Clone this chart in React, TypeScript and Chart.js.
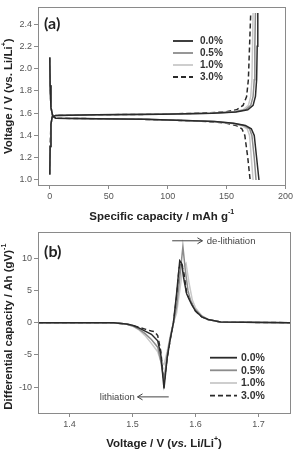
import React, { useEffect, useRef } from 'react';
import { Chart, registerables } from 'chart.js';

Chart.register(...registerables);

const FONT = '"Liberation Sans", Arial, sans-serif';
const LABEL_FONT = 'Lato, "Liberation Sans", sans-serif';
const FRAME = '#8a8a8a';
const TICK_TEXT = '#555555';
const TITLE_TEXT = '#222222';

const SERIES_LABELS = ['0.0%', '0.5%', '1.0%', '3.0%'];
const SERIES_COLORS = ['#2a2a2a', '#8c8c8c', '#c9c9c9', '#2a2a2a'];
const SERIES_DASH: number[][] = [[], [], [], [5, 3]];

// ---- (a) charge / discharge profiles ----
const dischargeVoltage = [2.1, 1.85, 1.65, 1.575, 1.555, 1.55, 1.545, 1.535, 1.525, 1.51, 1.49, 1.46, 1.4, 1.2, 1.0];
const dischargeCap00 = [0, 0.3, 1.0, 2.5, 5, 40, 80, 115, 140, 156, 166, 171, 173.5, 175.5, 177.5];
const dischargeCap05 = [0, 0.3, 1.0, 2.5, 5, 40, 80, 114, 139, 155, 164.5, 169.5, 171.5, 173.5, 175];
const dischargeCap10 = [0, 0.3, 1.0, 2.5, 5, 40, 80, 113, 138, 153, 162.5, 167.5, 169.5, 171, 172.5];
const dischargeCap30 = [0, 0.3, 1.0, 2.5, 5, 40, 78, 110, 134, 150, 158, 163, 165.5, 168, 170];

const chargeVoltage = [1.05, 1.3, 1.5, 1.565, 1.58, 1.585, 1.59, 1.6, 1.61, 1.63, 1.67, 1.75, 1.9, 2.2, 2.5];
const chargeCap00 = [0, 0.3, 1.0, 2.0, 5, 40, 95, 138, 158, 168, 172.5, 174.5, 175.5, 176, 176.5];
const chargeCap05 = [0, 0.3, 1.0, 2.0, 5, 40, 94, 136, 156, 166, 170.5, 172.5, 173.5, 174, 174.5];
const chargeCap10 = [0, 0.3, 1.0, 2.0, 5, 40, 93, 134, 154, 164, 168.5, 170.5, 171.5, 172, 172.5];
const chargeCap30 = [0, 0.3, 1.0, 2.0, 5, 38, 88, 128, 148, 158.5, 164, 167, 168.5, 169.5, 170.5];

const capacityTicks = [0, 50, 100, 150, 200];
const voltageTicks = [1.0, 1.2, 1.4, 1.6, 1.8, 2.0, 2.2, 2.4];

// ---- (b) differential capacity ----
const dqdvV00 = [1.35, 1.47, 1.49, 1.5, 1.51, 1.52, 1.53, 1.54, 1.545, 1.55, 1.555, 1.56, 1.565, 1.57, 1.575, 1.578, 1.582, 1.586, 1.59, 1.594, 1.6, 1.61, 1.62, 1.64, 1.75];
const dqdvY00 = [0, 0, -0.2, -0.4, -0.8, -1.3, -1.8, -2.8, -5.0, -10.2, -5.5, -2.5, 0, 4.5, 9.6, 9.2, 6.5, 4.5, 3.6, 2.8, 1.8, 0.9, 0.5, 0.1, 0];
const dqdvV05 = [1.35, 1.47, 1.49, 1.5, 1.51, 1.52, 1.53, 1.54, 1.545, 1.55, 1.555, 1.56, 1.565, 1.57, 1.575, 1.58, 1.584, 1.588, 1.592, 1.596, 1.6, 1.61, 1.62, 1.64, 1.75];
const dqdvY05 = [0, 0, -0.2, -0.5, -1.0, -1.7, -2.6, -3.8, -6.0, -9.0, -5.0, -2.3, 0, 2.5, 7.0, 11.8, 8.0, 5.0, 3.5, 2.6, 2.0, 1.0, 0.5, 0.1, 0];
const dqdvV10 = [1.35, 1.47, 1.49, 1.5, 1.51, 1.52, 1.53, 1.54, 1.545, 1.55, 1.555, 1.56, 1.565, 1.57, 1.575, 1.58, 1.585, 1.59, 1.595, 1.6, 1.61, 1.62, 1.64, 1.75];
const dqdvY10 = [0, 0, -0.2, -0.5, -1.1, -2.0, -3.2, -4.5, -6.0, -6.5, -4.5, -2.0, 0, 1.5, 5.0, 8.5, 9.2, 6.0, 3.5, 2.3, 1.1, 0.5, 0.1, 0];
const dqdvV30 = [1.35, 1.47, 1.49, 1.5, 1.51, 1.52, 1.53, 1.535, 1.54, 1.545, 1.55, 1.555, 1.56, 1.565, 1.57, 1.574, 1.578, 1.582, 1.586, 1.59, 1.594, 1.6, 1.61, 1.62, 1.64, 1.75];
const dqdvY30 = [0, 0, -0.2, -0.4, -0.7, -1.0, -1.3, -1.4, -2.0, -4.5, -9.5, -5.5, -2.5, 0, 4.0, 8.5, 9.3, 7.5, 4.5, 3.8, 3.0, 1.8, 0.9, 0.5, 0.1, 0];

const dqdvVoltageTicks = [1.4, 1.5, 1.6, 1.7];
const dqdvTicks = [-10, -5, 0, 5, 10];

type Seg = { t: string; it?: boolean; sup?: boolean };

function drawRich(ctx: CanvasRenderingContext2D, segs: Seg[], x: number, y: number, size: number, rotate: boolean) {
  ctx.save();
  ctx.translate(x, y);
  if (rotate) ctx.rotate(-Math.PI / 2);
  const fontOf = (s: Seg) => `${s.it ? 'italic ' : ''}bold ${s.sup ? Math.round(size * 0.65) : size}px ${FONT}`;
  let total = 0;
  const widths = segs.map((s) => {
    ctx.font = fontOf(s);
    const w = ctx.measureText(s.t).width;
    total += w;
    return w;
  });
  let cx = -total / 2;
  ctx.textBaseline = 'middle';
  ctx.textAlign = 'left';
  ctx.fillStyle = TITLE_TEXT;
  segs.forEach((s, i) => {
    ctx.font = fontOf(s);
    ctx.fillText(s.t, cx, s.sup ? -size * 0.42 : 0);
    cx += widths[i];
  });
  ctx.restore();
}

function line(xs: number[], ys: number[], i: number) {
  return {
    label: SERIES_LABELS[i],
    data: xs.map((x, k) => ({ x, y: ys[k] })),
    borderColor: SERIES_COLORS[i],
    borderDash: SERIES_DASH[i],
    borderWidth: 1.5,
    pointRadius: 0,
    showLine: true,
    fill: false,
    tension: 0,
  };
}

function axis(min: number, max: number, tickValues: number[], fmt: (v: number) => string, size: number, isX: boolean) {
  return {
    type: 'linear',
    min,
    max,
    afterBuildTicks: (s: any) => {
      s.ticks = tickValues.map((value) => ({ value }));
    },
    afterFit: (s: any) => {
      if (isX) s.height = size;
      else s.width = size;
    },
    ticks: {
      color: TICK_TEXT,
      padding: 2,
      font: { family: FONT, size: 9 },
      callback: (v: any) => fmt(Number(v)),
    },
    grid: { display: true, drawOnChartArea: false, drawTicks: true, tickLength: 4, tickColor: FRAME, color: FRAME },
    border: { display: true, color: FRAME, width: 1 },
  };
}

const frameBox = {
  id: 'frameBox',
  afterDraw(chart: any) {
    const { ctx, chartArea: a } = chart;
    ctx.save();
    ctx.strokeStyle = FRAME;
    ctx.lineWidth = 1;
    ctx.strokeRect(Math.round(a.left) + 0.5, Math.round(a.top) + 0.5, Math.round(a.right - a.left), Math.round(a.bottom - a.top));
    ctx.restore();
  },
};

function drawLegend(ctx: CanvasRenderingContext2D, x0: number, x1: number, tx: number, rows: number[], size: number) {
  ctx.save();
  SERIES_LABELS.forEach((lab, i) => {
    ctx.strokeStyle = SERIES_COLORS[i];
    ctx.lineWidth = 1.8;
    ctx.setLineDash(SERIES_DASH[i]);
    ctx.beginPath();
    ctx.moveTo(x0, rows[i]);
    ctx.lineTo(x1, rows[i]);
    ctx.stroke();
    ctx.setLineDash([]);
    ctx.fillStyle = '#333333';
    ctx.font = `bold ${size}px ${FONT}`;
    ctx.textBaseline = 'middle';
    ctx.textAlign = 'left';
    ctx.fillText(lab, tx, rows[i] + 0.5);
  });
  ctx.restore();
}

function arrow(ctx: CanvasRenderingContext2D, xFrom: number, xTo: number, y: number) {
  const dir = Math.sign(xTo - xFrom);
  ctx.save();
  ctx.strokeStyle = '#444444';
  ctx.lineWidth = 1;
  ctx.beginPath();
  ctx.moveTo(xFrom, y);
  ctx.lineTo(xTo, y);
  ctx.moveTo(xTo - dir * 5, y - 3);
  ctx.lineTo(xTo, y);
  ctx.lineTo(xTo - dir * 5, y + 3);
  ctx.stroke();
  ctx.restore();
}

const profileDecor = {
  id: 'profileDecor',
  afterDraw(chart: any) {
    const { ctx, chartArea: a } = chart;
    const cx = (a.left + a.right) / 2;
    drawRich(ctx, [{ t: 'Specific capacity / mAh g' }, { t: '-1', sup: true }], cx, 217, 11.5, false);
    drawRich(ctx, [{ t: 'Voltage / V (vs. Li/Li' }, { t: '+', sup: true }, { t: ')' }], 8.5, (a.top + a.bottom) / 2, 11.5, true);
    ctx.save();
    ctx.fillStyle = '#222222';
    ctx.font = `bold 16px ${LABEL_FONT}`;
    ctx.textBaseline = 'middle';
    ctx.textAlign = 'left';
    ctx.fillText('(a)', a.left + 6, a.top + 16);
    ctx.restore();
    drawLegend(ctx, 173, 193, 200, [41, 53, 65, 77], 10);
  },
};

const dqdvDecor = {
  id: 'dqdvDecor',
  afterDraw(chart: any) {
    const { ctx, chartArea: a, scales } = chart;
    const xs = scales.x;
    const ys = scales.y;
    const cx = (a.left + a.right) / 2;
    drawRich(ctx, [{ t: 'Voltage / V (' }, { t: 'vs.', it: true }, { t: ' Li/Li' }, { t: '+', sup: true }, { t: ')' }], cx, 219, 11.5, false);
    drawRich(ctx, [{ t: 'Differential capacity / Ah (gV)' }, { t: '-1', sup: true }], 8.5, (a.top + a.bottom) / 2 + 4, 11.5, true);
    ctx.save();
    ctx.fillStyle = '#222222';
    ctx.font = `bold 16px ${LABEL_FONT}`;
    ctx.textBaseline = 'middle';
    ctx.textAlign = 'left';
    ctx.fillText('(b)', a.left + 6, a.top + 19);
    // annotations
    ctx.font = `9.5px ${FONT}`;
    ctx.fillStyle = '#444444';
    const yDe = ys.getPixelForValue(12.7);
    arrow(ctx, xs.getPixelForValue(1.563), xs.getPixelForValue(1.611), yDe);
    ctx.fillText('de-lithiation', xs.getPixelForValue(1.618), yDe + 0.5);
    const yLi = ys.getPixelForValue(-11.5);
    arrow(ctx, xs.getPixelForValue(1.5575), xs.getPixelForValue(1.508), yLi);
    ctx.textAlign = 'right';
    ctx.fillText('lithiation', xs.getPixelForValue(1.5035), yLi + 0.5);
    ctx.restore();
    drawLegend(ctx, 210, 237, 241, [132.7, 145.3, 158, 170.7], 10.5);
  },
};

function ProfileChart() {
  const ref = useRef<HTMLCanvasElement | null>(null);
  useEffect(() => {
    if (!ref.current) return;
    const chart = new Chart(ref.current, {
      type: 'scatter',
      data: {
        datasets: [
          line(dischargeCap00, dischargeVoltage, 0),
          line(chargeCap00, chargeVoltage, 0),
          line(dischargeCap05, dischargeVoltage, 1),
          line(chargeCap05, chargeVoltage, 1),
          line(dischargeCap10, dischargeVoltage, 2),
          line(chargeCap10, chargeVoltage, 2),
          line(dischargeCap30, dischargeVoltage, 3),
          line(chargeCap30, chargeVoltage, 3),
        ] as any,
      },
      options: {
        animation: false,
        responsive: false,
        devicePixelRatio: 1,
        events: [],
        layout: { padding: { left: 0, right: 8, top: 5, bottom: 0 } },
        plugins: { legend: { display: false }, tooltip: { enabled: false }, title: { display: false } },
        scales: {
          x: axis(-10, 200, capacityTicks, (v) => String(v), 40, true) as any,
          y: axis(0.955, 2.55, voltageTicks, (v) => v.toFixed(1), 38, false) as any,
        },
      },
      plugins: [frameBox, profileDecor],
    });
    return () => chart.destroy();
  }, []);
  return <canvas ref={ref} width={295} height={225} style={{ display: 'block', width: 295, height: 225 }} />;
}

function DqdvChart() {
  const ref = useRef<HTMLCanvasElement | null>(null);
  useEffect(() => {
    if (!ref.current) return;
    const chart = new Chart(ref.current, {
      type: 'scatter',
      data: {
        datasets: [
          line(dqdvV00, dqdvY00, 0),
          line(dqdvV05, dqdvY05, 1),
          line(dqdvV10, dqdvY10, 2),
          line(dqdvV30, dqdvY30, 3),
        ] as any,
      },
      options: {
        animation: false,
        responsive: false,
        devicePixelRatio: 1,
        events: [],
        layout: { padding: { left: 0, right: 5, top: 7, bottom: 0 } },
        plugins: { legend: { display: false }, tooltip: { enabled: false }, title: { display: false } },
        scales: {
          x: axis(1.35, 1.75, dqdvVoltageTicks, (v) => v.toFixed(1), 36, true) as any,
          y: axis(-14, 14, dqdvTicks, (v) => String(v), 38, false) as any,
        },
      },
      plugins: [frameBox, dqdvDecor],
    });
    return () => chart.destroy();
  }, []);
  return <canvas ref={ref} width={295} height={224} style={{ display: 'block', width: 295, height: 224 }} />;
}

export default function App() {
  return (
    <div style={{ position: 'fixed', left: 0, top: 0, width: 295, height: 449, background: '#ffffff' }}>
      <ProfileChart />
      <DqdvChart />
    </div>
  );
}
